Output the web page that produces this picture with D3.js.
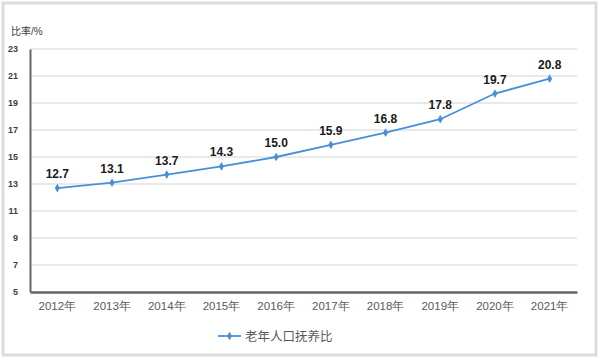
<!DOCTYPE html>
<html>
<head>
<meta charset="utf-8">
<script src="https://cdn.jsdelivr.net/npm/d3@7"></script>
<style>
body { margin: 0; background: #fff; }
svg { display: block; font-family: "Liberation Sans", "Noto Sans CJK SC", sans-serif; }
</style>
</head>
<body>
<svg id="chart" width="600" height="360"></svg>
<script>
// chart data
var years = ["2012年", "2013年", "2014年", "2015年", "2016年", "2017年", "2018年", "2019年", "2020年", "2021年"];
var ratios = [12.7, 13.1, 13.7, 14.3, 15.0, 15.9, 16.8, 17.8, 19.7, 20.8];
var yTicks = [5, 7, 9, 11, 13, 15, 17, 19, 21, 23];
var seriesName = "老年人口抚养比";

var margin = {top: 49, right: 23, bottom: 68, left: 30},
    width = 600 - margin.left - margin.right,
    height = 360 - margin.top - margin.bottom;

var lineColor = "#4a8fd6";

var svg = d3.select("#chart");

// outer frame
svg.append("rect")
    .attr("x", 3).attr("y", 3)
    .attr("width", 593).attr("height", 352)
    .attr("fill", "none")
    .attr("stroke", "#dcdcdc")
    .attr("stroke-width", 3);

var g = svg.append("g").attr("transform", "translate(" + margin.left + "," + margin.top + ")");

var x = d3.scaleBand().domain(years).range([0, width]);
var y = d3.scaleLinear().domain([5, 23]).range([height, 0]);

// gridlines
g.selectAll(".grid")
    .data(yTicks.slice(1))
    .enter()
    .append("line")
    .attr("x1", 0).attr("x2", width)
    .attr("y1", function(d) { return y(d); })
    .attr("y2", function(d) { return y(d); })
    .attr("stroke", "#e2e2e2")
    .attr("stroke-width", 1.5);

// y axis
var yAxis = g.append("g")
    .call(d3.axisLeft(y).tickValues(yTicks).tickSize(0).tickPadding(12));
yAxis.select(".domain").attr("stroke", "#666").attr("stroke-width", 2);
yAxis.selectAll("text").attr("fill", "#404040").style("font-size", "9px").style("font-weight", "bold");

// x axis
var xAxis = g.append("g")
    .attr("transform", "translate(0," + height + ")")
    .call(d3.axisBottom(x).tickSize(0).tickPadding(10));
xAxis.select(".domain").attr("stroke", "#666").attr("stroke-width", 2.5);
xAxis.selectAll("text").attr("fill", "#595959").style("font-size", "11.5px");

// unit label
svg.append("text")
    .attr("x", 11).attr("y", 35)
    .attr("fill", "#404040")
    .style("font-size", "10px")
    .text("比率/%");

var line = d3.line()
    .x(function(d, i) { return x(years[i]) + x.bandwidth() / 2; })
    .y(function(d) { return y(d); });

g.append("path")
    .datum(ratios)
    .attr("d", line)
    .attr("fill", "none")
    .attr("stroke", lineColor)
    .attr("stroke-width", 1.8);

var diamond = d3.symbol().type(d3.symbolDiamond).size(22);

g.selectAll(".pt")
    .data(ratios)
    .enter()
    .append("path")
    .attr("d", diamond)
    .attr("fill", lineColor)
    .attr("transform", function(d, i) {
        return "translate(" + (x(years[i]) + x.bandwidth() / 2) + "," + y(d) + ")";
    });

g.selectAll(".lbl")
    .data(ratios)
    .enter()
    .append("text")
    .attr("x", function(d, i) { return x(years[i]) + x.bandwidth() / 2; })
    .attr("y", function(d) { return y(d) - 10; })
    .attr("text-anchor", "middle")
    .attr("fill", "#1a1a1a")
    .style("font-size", "12px")
    .style("font-weight", "bold")
    .text(function(d) { return d.toFixed(1); });

// legend
var legend = svg.append("g").attr("transform", "translate(218,336)");
legend.append("line")
    .attr("x1", 0).attr("x2", 23)
    .attr("stroke", lineColor).attr("stroke-width", 1.8);
legend.append("path")
    .attr("d", diamond)
    .attr("fill", lineColor)
    .attr("transform", "translate(11.5,0)");
legend.append("text")
    .attr("x", 27).attr("y", 4.5)
    .attr("fill", "#595959")
    .style("font-size", "12.5px")
    .text(seriesName);
</script>
</body>
</html>
